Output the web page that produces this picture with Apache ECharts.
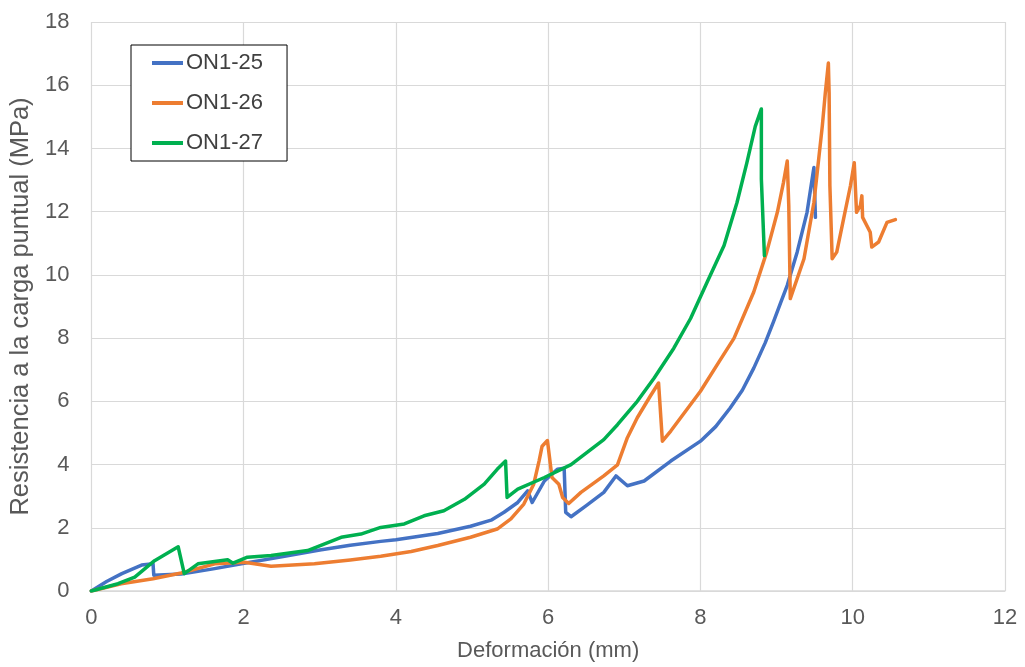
<!DOCTYPE html>
<html>
<head>
<meta charset="utf-8">
<script src="https://cdn.jsdelivr.net/npm/echarts@6/dist/echarts.min.js"></script>
<style>html,body{margin:0;padding:0;background:#fff}#c{width:1025px;height:667px}</style>
</head>
<body>
<div id="c"></div>
<script>
const seriesNames = ['ON1-25', 'ON1-26', 'ON1-27'];
const x25 = [0, 0.2, 0.4, 0.66, 0.81, 0.82, 1.18, 1.6, 1.97, 2.5, 3.0, 3.4, 3.8, 4.0, 4.55, 4.98, 5.25, 5.42, 5.6, 5.73, 5.79, 5.95, 6.12, 6.21, 6.23, 6.3, 6.5, 6.73, 6.89, 7.04, 7.26, 7.61, 8.0, 8.2, 8.39, 8.55, 8.7, 8.85, 8.96, 9.05, 9.14, 9.27, 9.4, 9.49, 9.51];
const y25 = [0, 0.3, 0.55, 0.82, 0.86, 0.5, 0.54, 0.7, 0.86, 1.08, 1.3, 1.45, 1.57, 1.62, 1.82, 2.05, 2.24, 2.49, 2.8, 3.17, 2.8, 3.48, 3.85, 3.88, 2.49, 2.35, 2.7, 3.12, 3.64, 3.33, 3.48, 4.11, 4.74, 5.2, 5.79, 6.35, 7.05, 7.85, 8.52, 9.1, 9.67, 10.72, 11.98, 13.4, 11.82];
const x26 = [0, 0.39, 0.81, 1.18, 1.62, 2.01, 2.36, 2.93, 3.4, 3.8, 4.2, 4.55, 4.98, 5.33, 5.51, 5.68, 5.81, 5.88, 5.92, 5.99, 6.05, 6.14, 6.19, 6.27, 6.43, 6.73, 6.91, 7.04, 7.17, 7.34, 7.45, 7.5, 7.61, 8.0, 8.26, 8.44, 8.7, 8.87, 9.01, 9.09, 9.14, 9.16, 9.18, 9.2, 9.36, 9.49, 9.6, 9.64, 9.68, 9.69, 9.7, 9.73, 9.79, 9.88, 9.97, 10.02, 10.05, 10.1, 10.12, 10.13, 10.23, 10.25, 10.34, 10.45, 10.56];
const y26 = [0, 0.23, 0.39, 0.57, 0.86, 0.91, 0.78, 0.86, 0.98, 1.1, 1.25, 1.44, 1.7, 1.96, 2.28, 2.75, 3.38, 4.11, 4.58, 4.76, 3.59, 3.38, 2.96, 2.77, 3.12, 3.64, 3.99, 4.85, 5.48, 6.16, 6.58, 4.74, 5.06, 6.32, 7.31, 7.99, 9.46, 10.72, 11.98, 12.92, 13.6, 12.19, 9.25, 9.25, 10.51, 12.29, 14.7, 15.76, 16.7, 15.76, 12.82, 10.51, 10.72, 11.77, 12.82, 13.55, 11.98, 12.19, 12.5, 11.82, 11.35, 10.88, 11.04, 11.66, 11.75];
const x27 = [0, 0.35, 0.57, 0.83, 1.14, 1.22, 1.4, 1.79, 1.86, 2.05, 2.36, 2.84, 3.28, 3.54, 3.8, 4.11, 4.37, 4.63, 4.9, 5.16, 5.33, 5.44, 5.46, 5.6, 5.95, 6.3, 6.73, 6.91, 7.17, 7.39, 7.65, 7.87, 8.09, 8.31, 8.48, 8.61, 8.72, 8.8, 8.8, 8.82, 8.84];
const y27 = [0, 0.23, 0.44, 0.96, 1.4, 0.55, 0.86, 0.99, 0.88, 1.07, 1.12, 1.28, 1.7, 1.8, 2.01, 2.12, 2.38, 2.54, 2.9, 3.38, 3.85, 4.11, 2.96, 3.22, 3.59, 4.0, 4.79, 5.26, 6.0, 6.73, 7.68, 8.62, 9.78, 10.93, 12.29, 13.55, 14.7, 15.25, 13.03, 13.03, 10.61];
const colors = ['#4472C4', '#ED7D31', '#00B050'];
const xTicks = [0, 2, 4, 6, 8, 10, 12];
const yTicks = [0, 2, 4, 6, 8, 10, 12, 14, 16, 18];

const pairs = (xs, ys) => xs.map((x, i) => [x, ys[i]]);
const allData = [pairs(x25, y25), pairs(x26, y26), pairs(x27, y27)];

const chart = echarts.init(document.getElementById('c'));
const font = 'Liberation Sans, Arial, sans-serif';
chart.setOption({
  animation: false,
  color: colors,
  grid: { left: 90, right: 20, top: 22, bottom: 73, containLabel: false },
  legend: {
    orient: 'vertical', left: 131, top: 45,
    padding: [7, 24, 7, 21],
    borderColor: '#000', borderWidth: 1, backgroundColor: '#fff',
    icon: 'rect', itemWidth: 31, itemHeight: 4, itemGap: 18,
    textStyle: { fontFamily: font, fontSize: 22, color: '#404040', padding: [0, 0, 0, -2] },
    data: seriesNames
  },
  xAxis: {
    type: 'value', min: xTicks[0], max: xTicks[xTicks.length - 1], interval: 2,
    name: 'Deformación (mm)', nameLocation: 'middle', nameGap: 49,
    nameTextStyle: { fontFamily: font, fontSize: 22, color: '#595959' },
    axisLine: { show: true, lineStyle: { color: '#d9d9d9', width: 1.5 } },
    axisTick: { show: false },
    axisLabel: { fontFamily: font, fontSize: 22, color: '#595959', margin: 16 },
    splitLine: { show: true, lineStyle: { color: '#d9d9d9', width: 1.2 } }
  },
  yAxis: {
    type: 'value', min: yTicks[0], max: yTicks[yTicks.length - 1], interval: 2,
    name: 'Resistencia a la carga puntual (MPa)', nameLocation: 'middle', nameGap: 46,
    nameTextStyle: { fontFamily: font, fontSize: 25.5, color: '#595959' },
    axisLine: { show: false },
    axisTick: { show: false },
    axisLabel: { fontFamily: font, fontSize: 22, color: '#595959', margin: 22 },
    splitLine: { show: true, lineStyle: { color: '#d9d9d9', width: 1.2 } }
  },
  series: seriesNames.map((n, i) => ({
    name: n, type: 'line', data: allData[i], showSymbol: false, symbol: 'none',
    lineStyle: { width: 3.5, color: colors[i], join: 'round', cap: 'round' },
    itemStyle: { color: colors[i] }
  }))
});
</script>
</body>
</html>
